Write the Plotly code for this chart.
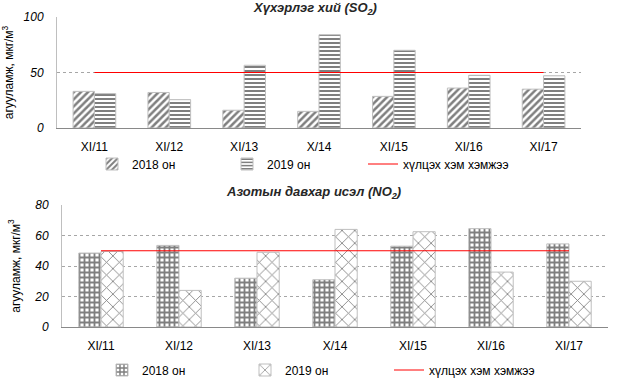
import plotly.graph_objects as go

categories = ["XI/11", "XI/12", "XI/13", "X/14", "XI/15", "XI/16", "XI/17"]
so2_2018 = [33, 32, 16, 15, 28.5, 36, 35]
so2_2019 = [31, 25.5, 56.5, 84, 70, 47.5, 47]
no2_2018 = [48.5, 53.5, 32, 31, 53, 64.5, 54.5]
no2_2019 = [49.5, 24, 49, 64, 62.5, 36, 30]
so2_limit = [50] * 7
no2_limit = [50] * 7

title_so2 = "<b><i>Хүхэрлэг хий (SO<sub>2</sub>)</i></b>"
title_no2 = "<b><i>Азотын давхар исэл (NO<sub>2</sub>)</i></b>"
ytitle = "агууламж, мкг/м<sup>3</sup>"
name18, name19, name_lim = "2018 он", "2019 он", "хүлцэх хэм хэмжээ"

FONT = "Liberation Sans, Arial, sans-serif"
W, H = 622, 384
bar_line = dict(color="#bfbfbf", width=1)

fig = go.Figure()
fig.add_trace(go.Bar(x=categories, y=so2_2018, name=name18, xaxis="x", yaxis="y", legend="legend",
                     marker=dict(color="white", line=bar_line,
                                 pattern=dict(shape="/", fgcolor="black", bgcolor="white", size=5, solidity=0.5))))
fig.add_trace(go.Bar(x=categories, y=so2_2019, name=name19, xaxis="x", yaxis="y", legend="legend2",
                     marker=dict(color="white", line=bar_line,
                                 pattern=dict(shape="-", fgcolor="black", bgcolor="white", size=4, solidity=0.5))))
fig.add_trace(go.Scatter(x=categories, y=so2_limit, name=name_lim, xaxis="x", yaxis="y", legend="legend3",
                         mode="lines", line=dict(color="#ff0000", width=1)))

fig.add_trace(go.Bar(x=categories, y=no2_2018, name=name18, xaxis="x2", yaxis="y2", legend="legend4",
                     marker=dict(color="white", line=bar_line,
                                 pattern=dict(shape="+", fgcolor="black", bgcolor="white", size=5, solidity=0.6))))
fig.add_trace(go.Bar(x=categories, y=no2_2019, name=name19, xaxis="x2", yaxis="y2", legend="legend5",
                     marker=dict(color="white", line=bar_line,
                                 pattern=dict(shape="x", fgcolor="black", bgcolor="white", size=9, solidity=0.18))))
fig.add_trace(go.Scatter(x=categories, y=no2_limit, name=name_lim, xaxis="x2", yaxis="y2", legend="legend6",
                         mode="lines", line=dict(color="#ff0000", width=1)))
fig.update_traces(showlegend=True, hoverinfo="skip")

def sx(a):
    return a / W

def sy(b):
    return 1 - b / H

def px_x(a, b):
    return [sx(a), sx(b)]

def px_y(top, bottom):
    return [sy(bottom), sy(top)]

tickfont_x = dict(family=FONT, size=12, color="black")
tickfont_y = dict(family=FONT, size=12, color="black", style="italic")
grid = dict(showgrid=True, gridcolor="#a6a6a6", griddash="dot", gridwidth=1)

def leg(xpx, ypx):
    return dict(x=sx(xpx), y=sy(ypx), orientation="h", xanchor="left", yanchor="middle", visible=True,
                font=dict(family=FONT, size=12, color="black"), bgcolor="rgba(0,0,0,0)", itemwidth=30)

fig.update_layout(
    width=W, height=H, margin=dict(l=0, r=0, t=0, b=0, autoexpand=False),
    paper_bgcolor="white", plot_bgcolor="white", showlegend=True, hovermode=False,
    font=dict(family=FONT, size=12, color="black"),
    barmode="group", bargap=0.43, bargroupgap=0,
    xaxis=dict(domain=px_x(57, 581), anchor="y", tickfont=tickfont_x, showline=True, linecolor="#898989",
               ticks="", showgrid=False, ticklabelstandoff=8),
    yaxis=dict(domain=px_y(17, 128), anchor="x", range=[0, 100], tickvals=[0, 50, 100], tickfont=tickfont_y,
               showline=True, linecolor="#bfbfbf", zeroline=False, ticks="", ticklabelstandoff=10,
               title=dict(text=ytitle, font=dict(family=FONT, size=12, color="black"), standoff=10), **grid),
    xaxis2=dict(domain=px_x(62, 608), anchor="y2", tickfont=tickfont_x, showline=True, linecolor="#898989",
                ticks="", showgrid=False, ticklabelstandoff=8),
    yaxis2=dict(domain=px_y(205, 327), anchor="x2", range=[0, 80], tickvals=[0, 20, 40, 60, 80], tickfont=tickfont_y,
                showline=True, linecolor="#bfbfbf", zeroline=False, ticks="", ticklabelstandoff=10,
                title=dict(text=ytitle, font=dict(family=FONT, size=12, color="black"), standoff=11), **grid),
    legend=leg(92, 164), legend2=leg(227, 164), legend3=leg(363, 164),
    legend4=leg(102, 370), legend5=leg(245, 370), legend6=leg(389, 370),
    annotations=[
        dict(text=title_so2, x=sx(315), y=sy(8), xref="paper", yref="paper", showarrow=False,
             font=dict(family=FONT, size=13, color="#262626"), xanchor="center", yanchor="middle"),
        dict(text=title_no2, x=sx(314), y=sy(192), xref="paper", yref="paper", showarrow=False,
             font=dict(family=FONT, size=13, color="#262626"), xanchor="center", yanchor="middle"),
    ],
)

fig.write_html("out.html", config={"displayModeBar": False},
               post_script="document.body.style.margin='0';document.body.style.overflow='hidden';")
